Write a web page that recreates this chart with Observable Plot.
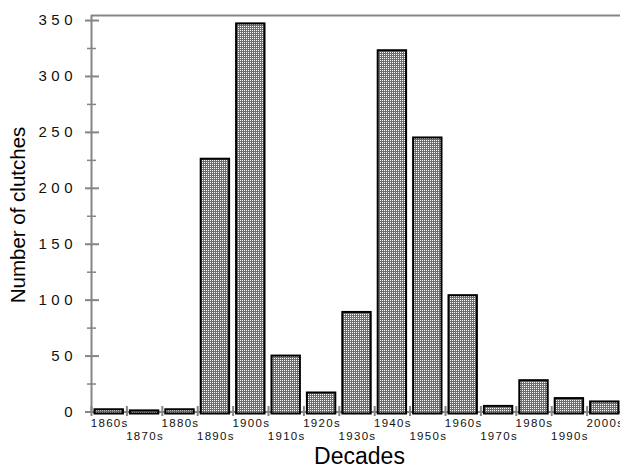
<!DOCTYPE html>
<html>
<head>
<meta charset="utf-8">
<script src="https://cdn.jsdelivr.net/npm/d3@7"></script>
<script src="https://cdn.jsdelivr.net/npm/@observablehq/plot@0.6"></script>
<style>
  html, body { margin: 0; padding: 0; background: #fff; }
  #chart svg { display: block; }
</style>
</head>
<body>
<div id="chart"></div>
<script>
const decades = ["1860s","1870s","1880s","1890s","1900s","1910s","1920s","1930s","1940s","1950s","1960s","1970s","1980s","1990s","2000s"];
const clutches = [2, 1, 2, 226, 347, 50, 17, 89, 323, 245, 104, 5, 28, 12, 9];
const yTicks = [0, 50, 100, 150, 200, 250, 300, 350];
const yMinorTicks = [25, 75, 125, 175, 225, 275, 325];
const yMax = 354.5;
const xTitle = "Decades";
const yTitle = "Number of clutches";

const data = decades.map((d, i) => ({label: d, year: +d.slice(0, 4), n: clutches[i], row: i % 2}));
const boundaries = data.map(d => d.year - 5);
const xDomain = [data[0].year - 5, data[data.length - 1].year + 5];

const gray = "#858585";

const chart = Plot.plot({
  width: 620,
  height: 468,
  marginLeft: 91,
  marginRight: -2,
  marginTop: 15,
  marginBottom: 56.5,
  x: {domain: xDomain, axis: null},
  y: {domain: [0, yMax], axis: null},
  style: {fontFamily: "'Liberation Sans', Arial, sans-serif", background: "#fff", color: "#000"},
  marks: [
    Plot.ruleY([yMax], {stroke: gray, strokeWidth: 2}),
    Plot.ruleX([xDomain[0]], {y1: 0, y2: yMax, stroke: gray, strokeWidth: 2}),
    Plot.ruleY([0], {stroke: gray, strokeWidth: 2}),
    Plot.ruleY(yTicks, {x1: xDomain[0], x2: xDomain[0], insetLeft: -6, insetRight: -8, stroke: gray, strokeWidth: 2}),
    Plot.ruleY(yMinorTicks, {x1: xDomain[0], x2: xDomain[0], insetLeft: -4, insetRight: -5, stroke: gray, strokeWidth: 1.5}),
    Plot.ruleX(boundaries, {y1: 0, y2: 0, insetTop: -5.5, insetBottom: -4.5, stroke: gray, strokeWidth: 2}),
    Plot.rectY(data, {x1: d => d.year - 5, x2: d => d.year + 5, y1: 0, y2: "n", insetLeft: 3.5, insetRight: 3.5, insetBottom: -2, fill: "url(#dots)", stroke: "#000", strokeWidth: 2}),
    Plot.text(yTicks, {x: xDomain[0], y: d => d, text: d => String(d), textAnchor: "end", dx: -14.5, fontSize: 15, fill: "#111"}),
    Plot.text(data.filter(d => d.row === 0), {x: "year", y: 0, text: "label", dy: 11, dx: 0.5, fontSize: 11.5, fill: "#111"}),
    Plot.text(data.filter(d => d.row === 1), {x: "year", y: 0, text: "label", dy: 24.5, dx: 0.5, fontSize: 11.5, fill: "#111"})
  ]
});

const svg = d3.select(chart);
const defs = svg.insert("defs", ":first-child");
const pat = defs.append("pattern").attr("id", "dots").attr("patternUnits", "userSpaceOnUse").attr("width", 2).attr("height", 2);
pat.append("rect").attr("width", 2).attr("height", 2).attr("fill", "#6e6e6e");
pat.append("rect").attr("width", 1).attr("height", 1).attr("fill", "#ffffff");

const yLabelSet = new Set(yTicks.map(String));
const xLabelSet = new Set(decades);
svg.selectAll("text").each(function() {
  const t = this.textContent;
  if (yLabelSet.has(t)) this.style.letterSpacing = "4.5px";
  else if (xLabelSet.has(t)) this.style.letterSpacing = "1.3px";
});

svg.append("text")
  .attr("transform", "translate(25,215) rotate(-90)")
  .attr("text-anchor", "middle")
  .attr("font-size", 20.5)
  .attr("fill", "#000")
  .text(yTitle);
svg.append("text")
  .attr("x", 359.5).attr("y", 464)
  .attr("text-anchor", "middle")
  .attr("font-size", 23)
  .attr("fill", "#000")
  .text(xTitle);

document.getElementById("chart").appendChild(chart);
</script>
</body>
</html>
